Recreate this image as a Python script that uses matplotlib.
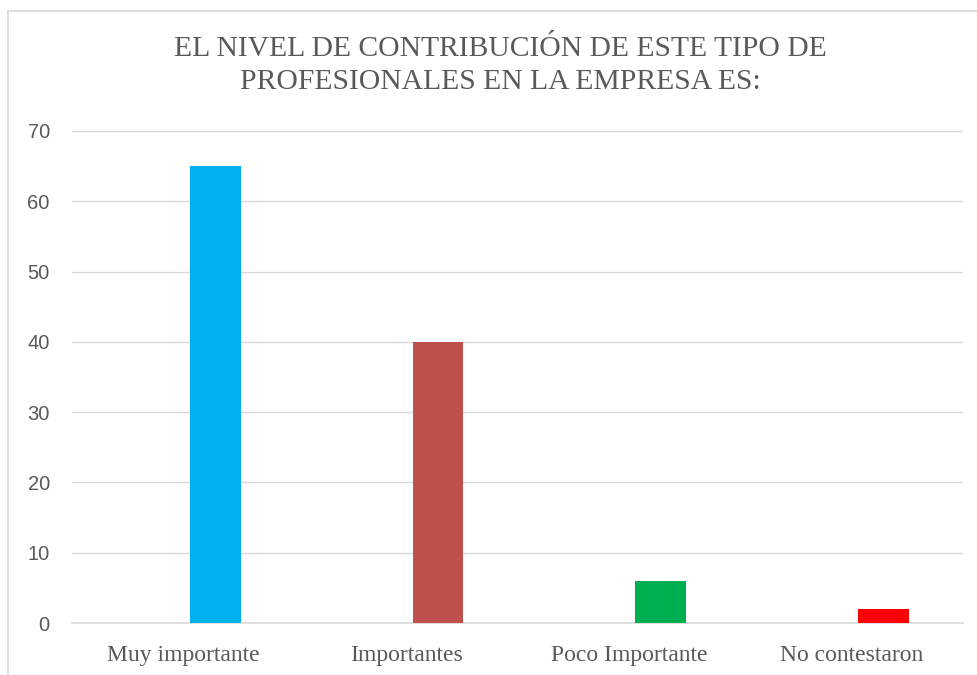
import matplotlib.pyplot as plt
from matplotlib.patches import Rectangle

# datos
categorias = ['Muy importante', 'Importantes', 'Poco Importante', 'No contestaron']
valores = [65, 40, 6, 2]
colores = ['#00B0F0', '#C0504D', '#00B050', '#FF0000']
titulo = 'EL NIVEL DE CONTRIBUCIÓN DE ESTE TIPO DE\nPROFESIONALES EN LA EMPRESA ES:'
yticks = [0, 10, 20, 30, 40, 50, 60, 70]

gris = '#595959'

fig = plt.figure(figsize=(9.77, 6.75), dpi=100)
ax = fig.add_axes([0.0737, 0.077, 0.912, 0.729])

x = list(range(len(categorias)))
ax.bar([i + 0.143 for i in x], valores, width=0.227, color=colores, zorder=3)

ax.set_xlim(-0.5, 3.5)
ax.set_ylim(0, 70)
ax.set_yticks(yticks)
ax.set_yticklabels([str(v) for v in yticks], fontsize=14.5, color=gris,
                   family='Liberation Sans')
ax.set_xticks(x)
ax.set_xticklabels(categorias, fontsize=17, color=gris, family='Liberation Serif')
ax.tick_params(axis='both', length=0)
ax.tick_params(axis='y', pad=16)
ax.tick_params(axis='x', pad=16)

ax.grid(axis='y', color='#D9D9D9', linewidth=1, zorder=0)
for s in ['top', 'right', 'left']:
    ax.spines[s].set_visible(False)
ax.spines['bottom'].set_color('#D9D9D9')
ax.spines['bottom'].set_linewidth(1.2)

# titulo
fig.text(500 / 977, 1 - 65.5 / 675, titulo, ha='center', va='center',
         fontsize=21.3, color=gris, family='Liberation Serif', linespacing=1.32)

# borde del grafico
fig.patches.append(Rectangle((8 / 977, -0.1), 1.2, 1 - 11 / 675 + 0.1,
                             transform=fig.transFigure, fill=False,
                             edgecolor='#D9D9D9', linewidth=1.2))

plt.savefig('out.png', dpi=100)
